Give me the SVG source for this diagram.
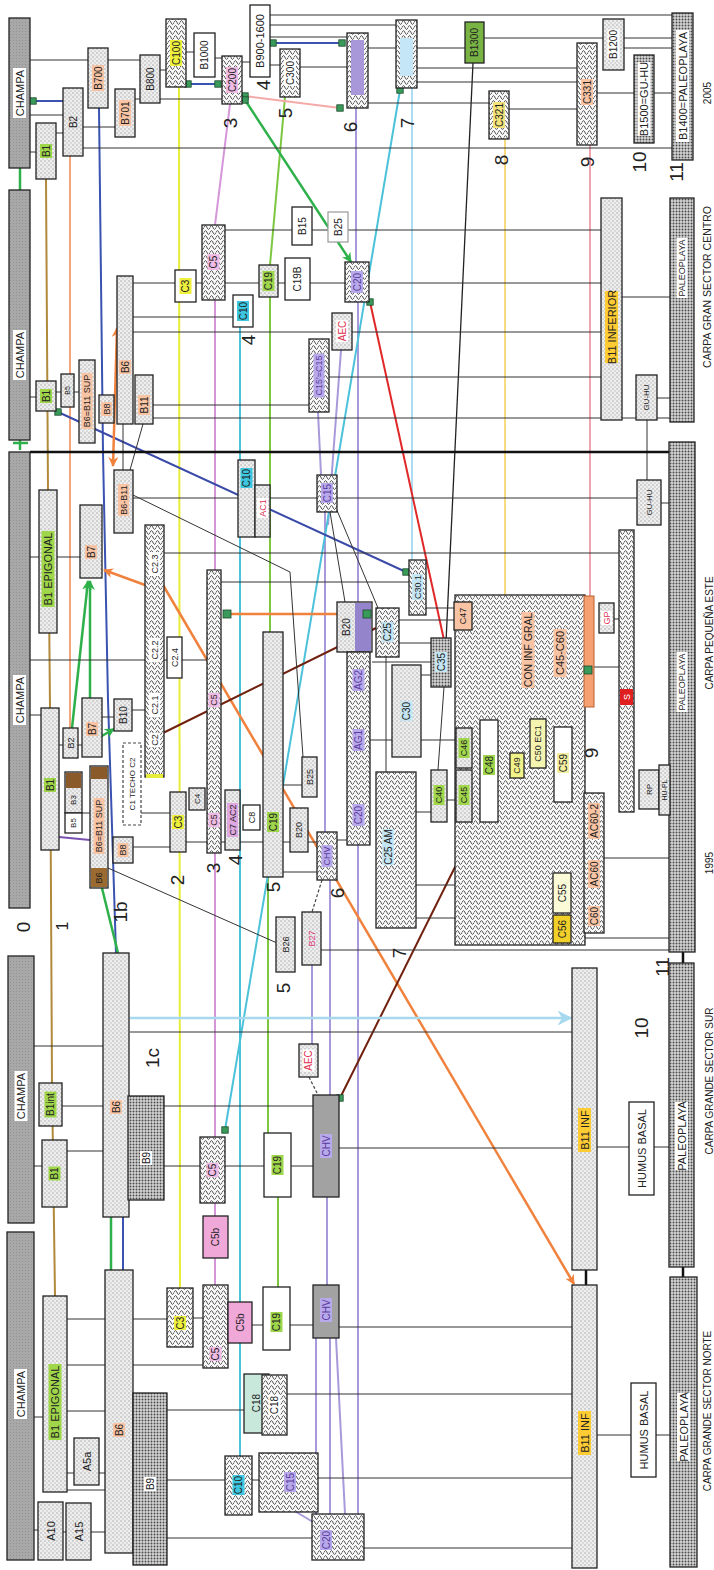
<svg xmlns="http://www.w3.org/2000/svg" width="714" height="1570" viewBox="0 0 714 1570">
<style>
.t{font-family:"Liberation Sans",Arial,sans-serif;font-size:10px;text-anchor:middle;dominant-baseline:central;fill:#222}
.s11{font-size:11px}.s9{font-size:9px}.s8{font-size:8px}.s7{font-size:7px}
.num{font-family:"Liberation Sans",Arial,sans-serif;font-size:19px;text-anchor:middle;dominant-baseline:central;fill:#222}
.b{stroke:#222;stroke-width:1.3}
.lt{fill:url(#lt)}.wv{fill:url(#wv)}.dk{fill:url(#dk)}.ch{fill:url(#ch)}.wh{fill:#fff}.gy{fill:#a2a2a2}
.gG{fill:#9fd64a}.gO{fill:#f8c4a4}.gY{fill:#eef03c}.gP{fill:#f0bce6}.gV{fill:#b8aaea}.gC{fill:#3cc6e0}.gL{fill:#c4e6f4}.gW{fill:#fff}.gB{fill:#ffcc33}
.red{fill:#e03050}.vt{fill:#5a3aa0}
.k{fill:none;stroke:#333;stroke-width:1}
.cG{fill:none;stroke:#b08a3a;stroke-width:2}
.cO{fill:none;stroke:#f6a47c;stroke-width:2}
.cB{fill:none;stroke:#3a52b0;stroke-width:2}
.cY{fill:none;stroke:#e6ec38;stroke-width:2}
.cL{fill:none;stroke:#d496d8;stroke-width:2}
.cN{fill:none;stroke:#7cc640;stroke-width:2}
.cE{fill:none;stroke:#2eb04a;stroke-width:2.5}
.cK{fill:none;stroke:#f4aaa8;stroke-width:2}
.cV{fill:none;stroke:#a89ada;stroke-width:2}
.cS{fill:none;stroke:#acdcf2;stroke-width:2}
.cC{fill:none;stroke:#4cc2da;stroke-width:2}
.cA{fill:none;stroke:#f8da80;stroke-width:2}
.cR{fill:none;stroke:#f0a4b0;stroke-width:2}
.cX{fill:none;stroke:#e02828;stroke-width:2}
.cD{fill:none;stroke:#70200e;stroke-width:2}
.cF{fill:none;stroke:#f0823e;stroke-width:2.5}
.dash{fill:none;stroke:#444;stroke-width:1.2;stroke-dasharray:3 2}
.sq{fill:#3a9a5a;stroke:#1d4a2c;stroke-width:0.8}
</style>
<defs>
<pattern id="lt" width="4" height="4" patternUnits="userSpaceOnUse"><rect width="4" height="4" fill="#eeeeee"/><circle cx="1" cy="1" r="0.7" fill="#9c9c9c"/><circle cx="3" cy="3" r="0.7" fill="#b4b4b4"/></pattern>
<pattern id="wv" width="6" height="5" patternUnits="userSpaceOnUse"><rect width="6" height="5" fill="#fafafa"/><path d="M0 2.5C1 0 2 0 3 2.5S5 5 6 2.5" fill="none" stroke="#3a3a3a" stroke-width="1"/></pattern>
<pattern id="dk" width="3" height="3" patternUnits="userSpaceOnUse"><rect width="3" height="3" fill="#d4d4d4"/><circle cx="1.5" cy="1.5" r="0.95" fill="#4a4a4a"/></pattern>
<pattern id="ch" width="3" height="3" patternUnits="userSpaceOnUse"><rect width="3" height="3" fill="#a8a8a8"/><circle cx="1.5" cy="1.5" r="0.5" fill="#8c8c8c"/></pattern>
<marker id="aO" viewBox="0 0 10 10" refX="9" refY="5" markerWidth="4" markerHeight="4" orient="auto-start-reverse"><path d="M0 0L10 5L0 10L3 5z" fill="#f0823e"/></marker>
<marker id="aE" viewBox="0 0 10 10" refX="9" refY="5" markerWidth="4" markerHeight="4" orient="auto"><path d="M0 0L10 5L0 10L3 5z" fill="#2eb04a"/></marker>
<marker id="aS" viewBox="0 0 10 10" refX="9" refY="5" markerWidth="6" markerHeight="6" orient="auto"><path d="M0 0L10 5L0 10L3 5z" fill="#a6d8ee"/></marker>
<marker id="m" viewBox="0 0 10 10" refX="5" refY="5" markerWidth="8" markerHeight="8" markerUnits="userSpaceOnUse"><rect x="1" y="1" width="8" height="8" fill="#3a9a5a" stroke="#1d4a2c"/></marker>
</defs>
<rect width="714" height="1570" fill="#fff"/>

<g id="connectors">
<path class="cG" d="M46 179L48 490L50 708L52 1083L55 1296"/>
<path class="cO" d="M70 156V728"/>
<path class="cB" d="M99 108L103 452L108 700L116 953M123 1217V1270"/>
<path class="cE" d="M111 1217V1270M100 880L118 953M20 168V190M13 443H28M20 437V450"/>
<path class="cY" d="M179 87L180 1288"/>
<path class="cL" d="M230 104L215 225M215 300V1285"/>
<path class="cN" d="M285 97L270 265M270 297V632M268 877V1133M278 1197V1287"/>
<path class="cV" d="M356 108V262M358 302V602M358 845V1514M318 412L321 475M325 512V832M330 880V1095M327 1197V1285M341 350L328 525M312 965V1044M316 1338V1514M330 1338V1514M336 1338L345 1514M293 1510L313 1522"/>
<path d="M59 837L90 840" fill="none" stroke="#7a50b0" stroke-width="2"/>
<path class="cS" d="M412 88V560"/>
<path class="cC" d="M240 327V1456"/>
<path class="cC" d="M400 90L225 1130" marker-start="url(#m)" marker-end="url(#m)"/>
<path class="cA" d="M505 139V595"/>
<path class="cR" d="M590 145V596"/>
<path d="M473 63L446 642" fill="none" stroke="#222" stroke-width="1.3"/>
<path class="cX" d="M370 302L444 640" marker-start="url(#m)"/>
<path d="M58 412L406 572" fill="none" stroke="#3a4aa8" stroke-width="2" marker-start="url(#m)" marker-end="url(#m)"/>
<path class="cK" d="M245 96L340 108" marker-start="url(#m)" marker-end="url(#m)"/>
<path class="cB" d="M273 43H342" marker-start="url(#m)" marker-end="url(#m)"/>
<path class="cB" d="M188 84H218" marker-start="url(#m)" marker-end="url(#m)"/>
<path class="cB" d="M33 101H63" marker-start="url(#m)"/>
<path class="cE" d="M245 100L351 262" marker-start="url(#m)" marker-end="url(#aE)"/>
<path class="cE" d="M72 728L88 581" marker-end="url(#aE)"/>
<path class="cE" d="M90 698V581" marker-end="url(#aE)"/>
<path class="cE" d="M100 737L114 729" marker-end="url(#aE)"/>
<path class="cF" d="M145 585L104 570" marker-end="url(#aO)"/>
<path class="cF" d="M163 585L574 1284" marker-end="url(#aO)"/>
<path class="cF" d="M227 614H363"/>
<path class="cF" d="M117 328L113 466" marker-start="url(#aO)" marker-end="url(#aO)"/>
<path class="cD" d="M163 733L376 628"/>
<path class="cD" d="M456 865L340 1098" marker-end="url(#m)"/>
<path d="M130 1018H571" fill="none" stroke="#a6d8ee" stroke-width="2.5" marker-end="url(#aS)"/>
<path class="dash" d="M322 880L312 912M309 1077L318 1095"/>
<path class="k" d="M270 15H672M270 25H396M270 37H347M30 60H88M108 60H140M160 70H166M186 52H194M215 58H222M242 62H250M270 65H280M300 67H347M368 48H396M417 48H465M624 48H672M484 38H603M624 38H672M417 68H577M417 82H577M368 103H489M509 109H577M597 93H634M654 93H672M83 148H672M30 115H63M56 133H63M83 127H115M135 99H140M160 99H222M30 152H36"/>
<path class="k" d="M225 230H292M312 230H328M348 230H601M133 283H175M196 283H202M225 283H259M278 283H285M310 283H345M369 283H601M133 317H233M133 332H332M352 332H601M329 377H601M30 397H36M56 392H61M74 392H79M153 405H309M153 418H636M657 418H670M657 398H670M622 297H670M647 420V480M123 424V470M143 424L130 470"/>
<path d="M30 452H670" fill="none" stroke="#111" stroke-width="2.5"/>
<path class="k" d="M30 557H39M57 557H80M164 553H619M221 582H409M30 660H145M164 660H167M182 660H207M30 715H41M102 717H114M132 710H145M59 745H63M78 745H82M399 620H454M426 608H454M399 643H431M372 662H431M421 675H431M370 740H456M614 619H619M594 667H619M416 812H431M447 800H456M472 815H480M498 815H584M604 858H669M416 885H553M416 918H553M585 938H669M321 950H669M130 1032H572M133 498H317M337 498H637M661 503H669M141 813H170M82 813H90M133 847H170M186 842H207M221 842H225M240 842H263M283 842H290M308 842H317M337 840H347M283 872H317M283 785H302M659 790H669M444 687L438 770M330 512L345 602M336 508L378 608M472 748H480M498 765H510M524 765H530M546 765H554M133 495L290 572L303 757M108 868L277 943"/>
<path class="k" d="M386 657V772" stroke-width="2"/>
<path class="k" d="M34 1046H103M62 1106H103M164 1106H313M67 1151H103M34 1166H42M164 1166H200M225 1166H264M291 1166H313M339 1148H572M597 1147H629M654 1147H669"/>
<path d="M586 1262V1292M683 1260V1282M683 947V966" fill="none" stroke="#111" stroke-width="2.5"/>
<path class="k" d="M67 1319H105M133 1319H167M193 1318H203M252 1325H263M290 1325H313M339 1327H572M67 1365H105M133 1365H203M67 1411H105M167 1410H244M287 1394H572M34 1417H43M67 1473H74M99 1473H105M67 1490H105M167 1480H225M252 1480H259M318 1478H572M34 1530H38M63 1532H66M91 1532H105M167 1538H312M364 1548H572M597 1435H631M656 1435H670"/>
</g>

<!-- SECTION 1 (2005) -->
<g id="s1-champa"><rect class="b ch" x="9" y="18" width="21" height="150"/><g transform="translate(19.5 93) rotate(-90)"><rect class="gW" x="-25" y="-6.5" width="50" height="13"/><text class="t s11">CHAMPA</text></g></g>
<g id="s1-b1"><rect class="b lt" x="36" y="123" width="20" height="56"/><g transform="translate(46 151) rotate(-90)"><rect class="gG" x="-7" y="-6" width="14" height="12"/><text class="t">B1</text></g></g>
<g id="s1-b2"><rect class="b lt" x="63" y="88" width="20" height="68"/><text class="t" transform="translate(73 122) rotate(-90)">B2</text></g>
<g id="s1-b700"><rect class="b lt" x="88" y="48" width="20" height="60"/><g transform="translate(98 78) rotate(-90)"><rect class="gO" x="-13" y="-6" width="26" height="12"/><text class="t">B700</text></g></g>
<g id="s1-b701"><rect class="b lt" x="115" y="89" width="20" height="48"/><g transform="translate(125 113) rotate(-90)"><rect class="gO" x="-13" y="-6" width="26" height="12"/><text class="t">B701</text></g></g>
<g id="s1-b800"><rect class="b lt" x="140" y="55" width="20" height="48"/><text class="t" transform="translate(150 79) rotate(-90)">B800</text></g>
<g id="s1-c100"><rect class="b wv" x="166" y="19" width="20" height="68"/><g transform="translate(176 53) rotate(-90)"><rect class="gY" x="-13" y="-6" width="26" height="12"/><text class="t">C100</text></g></g>
<g id="s1-b1000"><rect class="b wh" x="194" y="33" width="21" height="44"/><text class="t" transform="translate(204.5 55) rotate(-90)">B1000</text></g>
<g id="s1-c200"><rect class="b wv" x="222" y="56" width="20" height="48"/><g transform="translate(232 80) rotate(-90)"><rect class="gP" x="-13" y="-6" width="26" height="12"/><text class="t">C200</text></g></g>
<g id="s1-b900"><rect class="b wh" x="250" y="5" width="20" height="72"/><text class="t s11" transform="translate(260 41) rotate(-90)">B900-1600</text></g>
<g id="s1-c300"><rect class="b wv" x="280" y="49" width="20" height="48"/><g transform="translate(290 73) rotate(-90)"><rect class="gW" x="-13" y="-6" width="26" height="12"/><text class="t">C300</text></g></g>
<g id="s1-c6"><rect class="b wv" x="347" y="33" width="21" height="75"/><rect x="351" y="40" width="13" height="55" fill="#a898da"/></g>
<g id="s1-c7"><rect class="b wv" x="396" y="20" width="21" height="68"/><rect x="400" y="38" width="13" height="38" fill="#c4e6f6"/></g>
<g id="s1-b1300"><rect class="b" fill="#78b444" x="465" y="22" width="19" height="41"/><text class="t" transform="translate(474.5 42.5) rotate(-90)">B1300</text></g>
<g id="s1-c321"><rect class="b wv" x="489" y="91" width="20" height="48"/><g transform="translate(499 115) rotate(-90)"><rect fill="#f4e27a" x="-13" y="-6" width="26" height="12"/><text class="t">C321</text></g></g>
<g id="s1-c331"><rect class="b wv" x="577" y="43" width="20" height="102"/><g transform="translate(587 92) rotate(-90)"><rect class="gO" x="-13" y="-6" width="26" height="12"/><text class="t">C331</text></g></g>
<g id="s1-b1200"><rect class="b lt" x="603" y="19" width="21" height="51"/><g transform="translate(613.5 44.5) rotate(-90)"><rect class="gW" x="-15" y="-6" width="30" height="12"/><text class="t">B1200</text></g></g>
<g id="s1-b1500"><rect class="b dk" x="634" y="55" width="20" height="88"/><g transform="translate(644 99) rotate(-90)"><rect class="gW" x="-37" y="-6.5" width="74" height="13"/><text class="t s11">B1500=GU-HU</text></g></g>
<g id="s1-b1400"><rect class="b dk" x="672" y="13" width="21" height="147"/><g transform="translate(682.5 86) rotate(-90)"><rect class="gW" x="-56" y="-6.5" width="112" height="13"/><text class="t s11">B1400=PALEOPLAYA</text></g></g>
<g id="s1-labels">
<text class="num" transform="translate(263 85) rotate(-90)">4</text>
<text class="num" transform="translate(230 123) rotate(-90)">3</text>
<text class="num" transform="translate(285 113) rotate(-90)">5</text>
<text class="num" transform="translate(350 127) rotate(-90)">6</text>
<text class="num" transform="translate(407 123) rotate(-90)">7</text>
<text class="num" transform="translate(501 160) rotate(-90)">8</text>
<text class="num" transform="translate(587 162) rotate(-90)">9</text>
<text class="num" transform="translate(639 162) rotate(-90)">10</text>
<text class="num" transform="translate(676 172) rotate(-90)">11</text>
<text class="t" transform="translate(707 93) rotate(-90)">2005</text>
</g>

<!-- SECTION 2 -->
<g id="s2-champa"><rect class="b ch" x="9" y="190" width="21" height="250"/><g transform="translate(19.5 355) rotate(-90)"><rect class="gW" x="-25" y="-6.5" width="50" height="13"/><text class="t s11">CHAMPA</text></g></g>
<g id="s2-b1"><rect class="b lt" x="36" y="381" width="20" height="30"/><g transform="translate(46 396) rotate(-90)"><rect class="gG" x="-7" y="-6" width="14" height="12"/><text class="t">B1</text></g></g>
<g id="s2-b5"><rect class="b lt" x="61" y="374" width="13" height="33"/><text class="t s7" transform="translate(67.5 390.5) rotate(-90)">B5</text></g>
<g id="s2-b6b11sup"><rect class="b lt" x="79" y="360" width="16" height="83"/><g transform="translate(87 401) rotate(-90)"><rect class="gO" x="-28" y="-5.5" width="56" height="11"/><text class="t s9">B6=B11 SUP</text></g></g>
<g id="s2-b8"><rect class="b lt" x="99" y="395" width="15" height="28"/><g transform="translate(106.5 409) rotate(-90)"><rect class="gO" x="-7" y="-5.5" width="14" height="11"/><text class="t s9">B8</text></g></g>
<g id="s2-b6"><rect class="b lt" x="117" y="276" width="16" height="148"/><g transform="translate(125 367) rotate(-90)"><rect class="gO" x="-7" y="-6" width="14" height="12"/><text class="t">B6</text></g></g>
<g id="s2-b11"><rect class="b lt" x="135" y="375" width="18" height="49"/><g transform="translate(144 405) rotate(-90)"><rect class="gO" x="-10" y="-6" width="20" height="12"/><text class="t">B11</text></g></g>
<g id="s2-c3"><rect class="b wh" x="175" y="270" width="21" height="32"/><g transform="translate(185.5 286) rotate(-90)"><rect class="gY" x="-8" y="-6" width="16" height="12"/><text class="t">C3</text></g></g>
<g id="s2-c5"><rect class="b wv" x="202" y="225" width="23" height="75"/><g transform="translate(213.5 262) rotate(-90)"><rect class="gP" x="-8" y="-6" width="16" height="12"/><text class="t">C5</text></g></g>
<g id="s2-c10"><rect class="b wh" x="233" y="295" width="20" height="32"/><g transform="translate(243 311) rotate(-90)"><rect class="gC" x="-10" y="-6" width="20" height="12"/><text class="t">C10</text></g></g>
<g id="s2-c19"><rect class="b lt" x="259" y="265" width="19" height="32"/><g transform="translate(268.5 281) rotate(-90)"><rect class="gG" x="-10" y="-6" width="20" height="12"/><text class="t">C19</text></g></g>
<g id="s2-c19b"><rect class="b wh" x="285" y="258" width="25" height="42"/><text class="t" transform="translate(297.5 279) rotate(-90)">C19B</text></g>
<g id="s2-b15"><rect class="b wh" x="292" y="207" width="20" height="38"/><text class="t" transform="translate(302 226) rotate(-90)">B15</text></g>
<g id="s2-b25"><rect class="wh" stroke="#999" stroke-width="1.2" x="328" y="212" width="20" height="30"/><text class="t" transform="translate(338 227) rotate(-90)">B25</text></g>
<g id="s2-c20"><rect class="b wv" x="345" y="262" width="24" height="40"/><g transform="translate(357 282) rotate(-90)"><rect class="gV" x="-11" y="-6" width="22" height="12"/><text class="t vt">C20</text></g></g>
<g id="s2-aec"><rect class="b lt" x="332" y="313" width="20" height="37"/><g transform="translate(342 331) rotate(-90)"><rect class="gW" x="-11" y="-6" width="22" height="12"/><text class="t red">AEC</text></g></g>
<g id="s2-c15"><rect class="b wv" x="309" y="339" width="20" height="73"/><g transform="translate(319 375.5) rotate(-90)"><rect class="gV" x="-22" y="-5.5" width="44" height="11"/><text class="t s9 vt">C15'=C15</text></g></g>
<g id="s2-b11inf"><rect class="b lt" x="601" y="198" width="21" height="222"/><g transform="translate(611.5 327) rotate(-90)"><rect class="gB" x="-36" y="-6.5" width="72" height="13"/><text class="t s11">B11 INFERIOR</text></g></g>
<g id="s2-guhu"><rect class="b lt" x="636" y="375" width="21" height="45"/><text class="t s8" transform="translate(646.5 397.5) rotate(-90)">GU-HU</text></g>
<g id="s2-paleo"><rect class="b dk" x="670" y="198" width="24" height="224"/><g transform="translate(682 268) rotate(-90)"><rect class="gW" x="-30" y="-5.5" width="60" height="11"/><text class="t s9">PALEOPLAYA</text></g></g>
<g id="s2-labels">
<text class="num" transform="translate(248 340) rotate(-90)">4</text>
<text class="t" style="font-size:10.5px" transform="translate(707 287) rotate(-90)">CARPA GRAN SECTOR CENTRO</text>
</g>

<!-- SECTION 3 -->
<g id="s3-champa"><rect class="b ch" x="9" y="452" width="21" height="456"/><g transform="translate(19.5 700) rotate(-90)"><rect class="gW" x="-25" y="-6.5" width="50" height="13"/><text class="t s11">CHAMPA</text></g></g>
<g id="s3-b1epi"><rect class="b lt" x="39" y="490" width="18" height="143"/><g transform="translate(48 569) rotate(-90)"><rect class="gG" x="-38" y="-6.5" width="76" height="13"/><text class="t s11">B1 EPIGONAL</text></g></g>
<g id="s3-b7a"><rect class="b lt" x="80" y="505" width="22" height="73"/><g transform="translate(91 552) rotate(-90)"><rect class="gO" x="-7" y="-6" width="14" height="12"/><text class="t">B7</text></g></g>
<g id="s3-b6b11"><rect class="b lt" x="114" y="470" width="19" height="63"/><g transform="translate(123.5 500) rotate(-90)"><rect class="gO" x="-16" y="-5.5" width="32" height="11"/><text class="t s9">B6-B11</text></g></g>
<g id="s3-c2"><rect class="b wv" x="145" y="525" width="19" height="252"/><rect x="146" y="774" width="17" height="4" fill="#e6ec38"/>
<g transform="translate(154.5 564) rotate(-90)"><rect class="gW" x="-12" y="-5.5" width="24" height="11"/><text class="t s9">C2.3</text></g>
<g transform="translate(154.5 650) rotate(-90)"><rect class="gW" x="-12" y="-5.5" width="24" height="11"/><text class="t s9">C2.2</text></g>
<g transform="translate(154.5 705) rotate(-90)"><rect class="gW" x="-12" y="-5.5" width="24" height="11"/><text class="t s9">C2.1</text></g>
<g transform="translate(154.5 740) rotate(-90)"><rect class="gW" x="-7" y="-5.5" width="14" height="11"/><text class="t s9">C2</text></g></g>
<g id="s3-c24"><rect class="b wh" x="167" y="637" width="15" height="41"/><text class="t s9" transform="translate(174.5 657.5) rotate(-90)">C2.4</text></g>
<g id="s3-c5"><rect class="b wv" x="207" y="570" width="14" height="283"/><g transform="translate(214 700) rotate(-90)"><rect class="gP" x="-7" y="-5.5" width="14" height="11"/><text class="t s9">C5</text></g><g transform="translate(214 820) rotate(-90)"><rect class="gP" x="-7" y="-5.5" width="14" height="11"/><text class="t s9">C5</text></g></g>
<g id="s3-c19"><rect class="b lt" x="263" y="632" width="20" height="245"/><g transform="translate(273 822) rotate(-90)"><rect class="gG" x="-10" y="-6" width="20" height="12"/><text class="t">C19</text></g></g>
<g id="s3-b20"><rect class="b lt" x="337" y="602" width="35" height="50"/><rect x="355" y="603" width="16" height="48" fill="#9484cc"/><text class="t" transform="translate(346 627) rotate(-90)">B20</text></g>
<g id="s3-ag"><rect class="b wv" x="347" y="652" width="23" height="193"/><g transform="translate(358.5 680) rotate(-90)"><rect class="gV" x="-11" y="-6" width="22" height="12"/><text class="t vt">AG2</text></g><g transform="translate(358.5 740) rotate(-90)"><rect class="gV" x="-11" y="-6" width="22" height="12"/><text class="t vt">AG1</text></g><g transform="translate(358.5 815) rotate(-90)"><rect class="gV" x="-11" y="-6" width="22" height="12"/><text class="t vt">C20</text></g></g>
<g id="s3-c15"><rect class="b wv" x="317" y="475" width="20" height="37"/><g transform="translate(327 493) rotate(-90)"><rect class="gV" x="-10" y="-6" width="20" height="12"/><text class="t vt">C15</text></g></g>
<g id="s3-c10"><rect class="b lt" x="238" y="460" width="17" height="77"/><rect class="b lt" x="255" y="485" width="15" height="52"/><g transform="translate(246.5 478) rotate(-90)"><rect class="gC" x="-10" y="-6" width="20" height="12"/><text class="t">C10</text></g><g transform="translate(262.5 508) rotate(-90)"><rect class="gW" x="-10" y="-5.5" width="20" height="11"/><text class="t s9 red">AC1</text></g></g>
<g id="s3-c301"><rect class="b wv" x="409" y="560" width="17" height="55"/><g transform="translate(417.5 587) rotate(-90)"><rect class="gL" x="-13" y="-5.5" width="26" height="11"/><text class="t s9">C30.1</text></g></g>
<g id="s3-c25"><rect class="b wv" x="376" y="608" width="23" height="49"/><g transform="translate(387.5 632) rotate(-90)"><rect class="gL" x="-10" y="-6" width="20" height="12"/><text class="t">C25</text></g></g>
<g id="s3-c35"><rect class="b dk" x="431" y="638" width="20" height="49"/><g transform="translate(441 662) rotate(-90)"><rect class="gL" x="-10" y="-6" width="20" height="12"/><text class="t">C35</text></g></g>
<g id="s3-c30"><rect class="b lt" x="392" y="665" width="29" height="92"/><g transform="translate(406.5 711) rotate(-90)"><rect class="gL" x="-10" y="-6" width="20" height="12"/><text class="t">C30</text></g></g>
<g id="s3-coninf"><rect class="b wv" x="455" y="595" width="130" height="350"/><g transform="translate(528 650) rotate(-90)"><rect class="gO" x="-38" y="-6.5" width="76" height="13"/><text class="t" style="font-size:10.5px">CON INF GRAL</text></g><g transform="translate(560 653) rotate(-90)"><rect class="gO" x="-24" y="-6.5" width="48" height="13"/><text class="t s11">C45-C60</text></g></g>
<g id="s3-c47"><rect class="b" fill="#f8c4a4" x="454" y="602" width="18" height="28"/><text class="t s9" transform="translate(463 616) rotate(-90)">C47</text></g>
<g id="s3-obar"><rect fill="#f4a070" stroke="#b86030" x="584" y="596" width="10" height="111"/></g>
<g id="s3-gp"><rect class="b lt" x="599" y="603" width="15" height="30"/><g transform="translate(606.5 618) rotate(-90)"><rect class="gW" x="-7" y="-5.5" width="14" height="11"/><text class="t s9 red">GP</text></g></g>
<g id="s3-longbar"><rect class="b wv" x="619" y="530" width="15" height="282"/><rect x="620" y="689" width="13" height="16" fill="#e02020"/><text class="t s9" style="fill:#fff" transform="translate(626.5 697) rotate(-90)">S</text></g>
<g id="s3-paleo"><rect class="b dk" x="669" y="442" width="26" height="510"/><g transform="translate(682 682) rotate(-90)"><rect class="gW" x="-30" y="-5.5" width="60" height="11"/><text class="t s9">PALEOPLAYA</text></g></g>
<g id="s3-guhu"><rect class="b lt" x="637" y="480" width="24" height="45"/><text class="t s8" transform="translate(649 502.5) rotate(-90)">GU-HU</text></g>
<g id="s3-rp"><rect class="b lt" x="639" y="770" width="20" height="39"/><text class="t s8" transform="translate(649 789.5) rotate(-90)">RP</text></g>
<g id="s3-hupl"><rect class="b lt" x="659" y="765" width="11" height="50"/><text class="t s7" transform="translate(664.5 790) rotate(-90)">HU-PL</text></g>
<g id="s3-c46"><rect class="b lt" x="456" y="728" width="16" height="40"/><g transform="translate(464 748) rotate(-90)"><rect class="gG" x="-10" y="-5.5" width="20" height="11"/><text class="t s9">C46</text></g></g>
<g id="s3-c48"><rect class="b wh" x="480" y="720" width="18" height="102"/><g transform="translate(489 765) rotate(-90)"><rect class="gG" x="-10" y="-6" width="20" height="12"/><text class="t">C48</text></g></g>
<g id="s3-c49"><rect class="b" fill="#f2f28a" x="510" y="753" width="14" height="25"/><text class="t s9" transform="translate(517 765.5) rotate(-90)">C49</text></g>
<g id="s3-c50"><rect class="b" fill="#f4f4b0" x="530" y="719" width="16" height="49"/><text class="t s9" transform="translate(538 743.5) rotate(-90)">C50 EC1</text></g>
<g id="s3-c59"><rect class="b wh" x="554" y="727" width="18" height="75"/><g transform="translate(563 763) rotate(-90)"><rect fill="#f4f0a0" x="-10" y="-6" width="20" height="12"/><text class="t">C59</text></g></g>
<g id="s3-c40"><rect class="b lt" x="431" y="770" width="16" height="52"/><g transform="translate(439 795) rotate(-90)"><rect class="gG" x="-10" y="-5.5" width="20" height="11"/><text class="t s9">C40</text></g></g>
<g id="s3-c45"><rect class="b lt" x="456" y="770" width="16" height="52"/><g transform="translate(464 795) rotate(-90)"><rect class="gG" x="-10" y="-5.5" width="20" height="11"/><text class="t s9">C45</text></g></g>
<g id="s3-c25am"><rect class="b wv" x="376" y="772" width="40" height="156"/><g transform="translate(388 847) rotate(-90)"><rect class="gL" x="-18" y="-6" width="36" height="12"/><text class="t">C25 AM</text></g></g>
<g id="s3-ac60"><rect class="b wv" x="584" y="793" width="20" height="140"/><g transform="translate(594 821) rotate(-90)"><rect class="gO" x="-18" y="-6" width="36" height="12"/><text class="t">AC60-2</text></g><g transform="translate(594 874) rotate(-90)"><rect class="gO" x="-14" y="-6" width="28" height="12"/><text class="t">AC60</text></g><g transform="translate(594 916) rotate(-90)"><rect class="gO" x="-10" y="-6" width="20" height="12"/><text class="t">C60</text></g></g>
<g id="s3-c55"><rect class="b" fill="#fbfbd8" x="553" y="873" width="18" height="40"/><text class="t" transform="translate(562 893) rotate(-90)">C55</text></g>
<g id="s3-c56"><rect class="b" fill="#f2d02a" x="553" y="915" width="18" height="28"/><text class="t" transform="translate(562 929) rotate(-90)">C56</text></g>
<g id="s3-b1"><rect class="b lt" x="41" y="708" width="18" height="142"/><g transform="translate(50 785) rotate(-90)"><rect class="gG" x="-7" y="-6" width="14" height="12"/><text class="t">B1</text></g></g>
<g id="s3-b2"><rect class="b lt" x="63" y="728" width="15" height="30"/><text class="t s9" transform="translate(70.5 743) rotate(-90)">B2</text></g>
<g id="s3-b7b"><rect class="b lt" x="82" y="698" width="20" height="59"/><g transform="translate(92 729) rotate(-90)"><rect class="gO" x="-7" y="-6" width="14" height="12"/><text class="t">B7</text></g></g>
<g id="s3-b10"><rect class="b lt" x="114" y="699" width="18" height="32"/><text class="t" transform="translate(123 715) rotate(-90)">B10</text></g>
<g id="s3-c1techo"><rect class="wh" stroke="#444" stroke-width="1.2" stroke-dasharray="3 2" x="123" y="743" width="18" height="82"/><text class="t s8" transform="translate(132 784) rotate(-90)">C1 TECHO C2</text></g>
<g id="s3-b3"><rect class="b lt" x="65" y="772" width="17" height="41"/><rect x="66" y="773" width="15" height="15" fill="#8b5a2b"/><text class="t s8" transform="translate(73.5 800) rotate(-90)">B3</text></g>
<g id="s3-b5"><rect class="b wh" x="65" y="813" width="17" height="20"/><text class="t s8" transform="translate(73.5 823) rotate(-90)">B5</text></g>
<g id="s3-b6b11sup"><rect class="b lt" x="90" y="766" width="18" height="122"/><rect x="91" y="767" width="16" height="12" fill="#8b5a2b"/><rect x="91" y="868" width="16" height="19" fill="#9a6a30"/><g transform="translate(99 826) rotate(-90)"><rect class="gO" x="-28" y="-5.5" width="56" height="11"/><text class="t s9">B6=B11 SUP</text></g><text class="t s9" transform="translate(99 878) rotate(-90)">B6</text></g>
<g id="s3-b8"><rect class="b lt" x="113" y="837" width="20" height="26"/><g transform="translate(123 850) rotate(-90)"><rect class="gO" x="-7" y="-5.5" width="14" height="11"/><text class="t s9">B8</text></g></g>
<g id="s3-c3"><rect class="b lt" x="170" y="792" width="16" height="60"/><g transform="translate(178 822) rotate(-90)"><rect class="gY" x="-7" y="-6" width="14" height="12"/><text class="t">C3</text></g></g>
<g id="s3-c4"><rect class="b lt" x="189" y="788" width="16" height="22"/><text class="t s8" transform="translate(197 799) rotate(-90)">C4</text></g>
<g id="s3-c7"><rect class="b lt" x="225" y="790" width="15" height="60"/><g transform="translate(232.5 820) rotate(-90)"><rect fill="#e0a8e0" x="-17" y="-5.5" width="34" height="11"/><text class="t s9">C7 AC2</text></g></g>
<g id="s3-c8"><rect class="b wh" x="243" y="805" width="17" height="25"/><text class="t s9" transform="translate(251.5 817.5) rotate(-90)">C8</text></g>
<g id="s3-b20b"><rect class="b lt" x="290" y="808" width="18" height="44"/><text class="t s9" transform="translate(299 830) rotate(-90)">B20</text></g>
<g id="s3-b25"><rect class="b lt" x="302" y="757" width="15" height="40"/><text class="t s9" transform="translate(309.5 777) rotate(-90)">B25</text></g>
<g id="s3-chv"><rect class="b wv" x="317" y="832" width="20" height="48"/><g transform="translate(327 856) rotate(-90)"><rect class="gV" x="-11" y="-5.5" width="22" height="11"/><text class="t s9 vt">CHV</text></g></g>
<g id="s3-b26"><rect class="b lt" x="276" y="917" width="19" height="55"/><text class="t s9" transform="translate(285.5 944.5) rotate(-90)">B26</text></g>
<g id="s3-b27"><rect class="b lt" x="302" y="912" width="19" height="53"/><text class="t s9" style="fill:#e04080" transform="translate(311.5 938.5) rotate(-90)">B27</text></g>
<g id="s3-labels">
<text class="num" transform="translate(177 880) rotate(-90)">2</text>
<text class="num" transform="translate(213 868) rotate(-90)">3</text>
<text class="num" transform="translate(235 860) rotate(-90)">4</text>
<text class="num" transform="translate(273 887) rotate(-90)">5</text>
<text class="num" transform="translate(337 893) rotate(-90)">6</text>
<text class="num" transform="translate(120 912) rotate(-90)">1b</text>
<text class="num" style="font-size:16px" transform="translate(62 926) rotate(-90)">1</text>
<text class="num" transform="translate(23 927) rotate(-90)">0</text>
<text class="num" transform="translate(283 988) rotate(-90)">5</text>
<text class="num" transform="translate(399 953) rotate(-90)">7</text>
<text class="num" transform="translate(591 753) rotate(-90)">9</text>
<text class="num" transform="translate(662 967) rotate(-90)">11</text>
<text class="t" transform="translate(709 633) rotate(-90)">CARPA PEQUEÑA ESTE</text>
<text class="t" transform="translate(709 863) rotate(-90)">1995</text>
</g>

<!-- SECTION 4 -->
<g id="s4-champa"><rect class="b ch" x="8" y="956" width="26" height="267"/><g transform="translate(21 1096) rotate(-90)"><rect class="gW" x="-25" y="-6.5" width="50" height="13"/><text class="t s11">CHAMPA</text></g></g>
<g id="s4-b1int"><rect class="b lt" x="39" y="1083" width="23" height="43"/><g transform="translate(50.5 1104.5) rotate(-90)"><rect class="gG" x="-13" y="-6" width="26" height="12"/><text class="t">B1int</text></g></g>
<g id="s4-b1"><rect class="b lt" x="42" y="1140" width="25" height="67"/><g transform="translate(54.5 1173.5) rotate(-90)"><rect class="gG" x="-7" y="-6" width="14" height="12"/><text class="t">B1</text></g></g>
<g id="s4-b6"><rect class="b lt" x="103" y="953" width="26" height="264"/><g transform="translate(116 1107) rotate(-90)"><rect class="gO" x="-7" y="-6" width="14" height="12"/><text class="t">B6</text></g></g>
<g id="s4-b9"><rect class="b dk" x="128" y="1096" width="36" height="104"/><g transform="translate(146 1158) rotate(-90)"><rect class="gW" x="-7" y="-6" width="14" height="12"/><text class="t">B9</text></g></g>
<g id="s4-c5"><rect class="b wv" x="200" y="1137" width="25" height="66"/><g transform="translate(212.5 1170) rotate(-90)"><rect class="gP" x="-7" y="-6" width="14" height="12"/><text class="t">C5</text></g></g>
<g id="s4-c5b"><rect class="b" fill="#f0a8d8" x="203" y="1216" width="25" height="42"/><text class="t" transform="translate(215.5 1237) rotate(-90)">C5b</text></g>
<g id="s4-c19"><rect class="b wh" x="264" y="1133" width="27" height="64"/><g transform="translate(277.5 1165) rotate(-90)"><rect class="gG" x="-10" y="-6" width="20" height="12"/><text class="t">C19</text></g></g>
<g id="s4-chv"><rect class="b gy" x="313" y="1095" width="26" height="102"/><g transform="translate(326 1146) rotate(-90)"><rect class="gV" x="-12" y="-6" width="24" height="12"/><text class="t vt">CHV</text></g></g>
<g id="s4-aec"><rect class="b lt" x="299" y="1044" width="19" height="33"/><g transform="translate(308.5 1060.5) rotate(-90)"><rect class="gW" x="-11" y="-6" width="22" height="12"/><text class="t red">AEC</text></g></g>
<g id="s4-b11inf"><rect class="b lt" x="572" y="968" width="25" height="302"/><g transform="translate(584.5 1130) rotate(-90)"><rect class="gB" x="-22" y="-6.5" width="44" height="13"/><text class="t s11">B11 INF</text></g></g>
<g id="s4-humus"><rect class="b wh" x="629" y="1102" width="25" height="93"/><text class="t s11" transform="translate(641.5 1148.5) rotate(-90)">HUMUS BASAL</text></g>
<g id="s4-paleo"><rect class="b dk" x="669" y="963" width="25" height="304"/><g transform="translate(681.5 1136) rotate(-90)"><rect class="gW" x="-34" y="-6.5" width="68" height="13"/><text class="t s11">PALEOPLAYA</text></g></g>
<g id="s4-labels">
<text class="num" transform="translate(152 1058) rotate(-90)">1c</text>
<text class="num" transform="translate(641 1028) rotate(-90)">10</text>
<text class="t" transform="translate(709 1081) rotate(-90)">CARPA GRANDE   SECTOR SUR</text>
</g>

<!-- SECTION 5 -->
<g id="s5-champa"><rect class="b ch" x="7" y="1232" width="27" height="328"/><g transform="translate(20.5 1394) rotate(-90)"><rect class="gW" x="-25" y="-6.5" width="50" height="13"/><text class="t s11">CHAMPA</text></g></g>
<g id="s5-b1epi"><rect class="b lt" x="43" y="1296" width="24" height="196"/><g transform="translate(55 1402) rotate(-90)"><rect class="gG" x="-38" y="-6.5" width="76" height="13"/><text class="t s11">B1 EPIGONAL</text></g></g>
<g id="s5-a5a"><rect class="b lt" x="74" y="1438" width="25" height="47"/><text class="t s11" transform="translate(86.5 1461.5) rotate(-90)">A5a</text></g>
<g id="s5-b6"><rect class="b lt" x="105" y="1270" width="28" height="283"/><g transform="translate(119 1430) rotate(-90)"><rect class="gO" x="-7" y="-6" width="14" height="12"/><text class="t">B6</text></g></g>
<g id="s5-b9"><rect class="b dk" x="133" y="1393" width="34" height="172"/><g transform="translate(150 1484) rotate(-90)"><rect class="gW" x="-7" y="-6" width="14" height="12"/><text class="t">B9</text></g></g>
<g id="s5-a10"><rect class="b lt" x="38" y="1502" width="25" height="58"/><text class="t s11" transform="translate(50.5 1531) rotate(-90)">A10</text></g>
<g id="s5-a15"><rect class="b lt" x="66" y="1503" width="25" height="57"/><text class="t s11" transform="translate(78.5 1531.5) rotate(-90)">A15</text></g>
<g id="s5-c3"><rect class="b wv" x="167" y="1288" width="26" height="59"/><g transform="translate(180 1323) rotate(-90)"><rect class="gY" x="-7" y="-6" width="14" height="12"/><text class="t">C3</text></g></g>
<g id="s5-c5"><rect class="b wv" x="203" y="1285" width="25" height="83"/><g transform="translate(215.5 1354) rotate(-90)"><rect class="gP" x="-7" y="-6" width="14" height="12"/><text class="t">C5</text></g></g>
<g id="s5-c5b"><rect class="b" fill="#f0a8d8" x="228" y="1302" width="24" height="41"/><text class="t" transform="translate(240 1322.5) rotate(-90)">C5b</text></g>
<g id="s5-c19"><rect class="b wh" x="263" y="1287" width="27" height="63"/><g transform="translate(276.5 1322) rotate(-90)"><rect class="gG" x="-10" y="-6" width="20" height="12"/><text class="t">C19</text></g></g>
<g id="s5-chv"><rect class="b gy" x="313" y="1285" width="26" height="53"/><g transform="translate(326 1310) rotate(-90)"><rect class="gV" x="-12" y="-6" width="24" height="12"/><text class="t vt">CHV</text></g></g>
<g id="s5-c18a"><rect class="b" fill="#c8e8dc" x="244" y="1374" width="25" height="59"/><text class="t" transform="translate(256.5 1403) rotate(-90)">C18</text></g>
<g id="s5-c18b"><rect class="b wv" x="262" y="1375" width="25" height="60"/><g transform="translate(274.5 1405) rotate(-90)"><rect class="gW" x="-10" y="-6" width="20" height="12"/><text class="t">C18</text></g></g>
<g id="s5-c10"><rect class="b wv" x="225" y="1456" width="27" height="59"/><g transform="translate(238.5 1485) rotate(-90)"><rect class="gC" x="-10" y="-6" width="20" height="12"/><text class="t">C10</text></g></g>
<g id="s5-c15"><rect class="b wv" x="259" y="1453" width="59" height="59"/><g transform="translate(290 1482) rotate(-90)"><rect class="gV" x="-10" y="-6" width="20" height="12"/><text class="t vt">C15</text></g></g>
<g id="s5-c20"><rect class="b wv" x="312" y="1514" width="52" height="46"/><g transform="translate(326 1540) rotate(-90)"><rect class="gV" x="-10" y="-6" width="20" height="12"/><text class="t vt">C20</text></g></g>
<g id="s5-b11inf"><rect class="b lt" x="572" y="1285" width="25" height="283"/><g transform="translate(584.5 1433) rotate(-90)"><rect class="gB" x="-22" y="-6.5" width="44" height="13"/><text class="t s11">B11 INF</text></g></g>
<g id="s5-humus"><rect class="b wh" x="631" y="1383" width="25" height="94"/><text class="t s11" transform="translate(643.5 1430) rotate(-90)">HUMUS BASAL</text></g>
<g id="s5-paleo"><rect class="b dk" x="670" y="1277" width="27" height="290"/><g transform="translate(683.5 1427) rotate(-90)"><rect class="gW" x="-34" y="-6.5" width="68" height="13"/><text class="t s11">PALEOPLAYA</text></g></g>
<g id="s5-labels">
<text class="t" transform="translate(707 1411) rotate(-90)">CARPA GRANDE   SECTOR NORTE</text>
</g>

<g id="connector-marks">
<rect class="sq" x="363" y="610" width="8" height="8"/>
<rect class="sq" x="223" y="610" width="8" height="8"/>
<rect class="sq" x="584" y="666" width="8" height="8"/>
</g>
</svg>
